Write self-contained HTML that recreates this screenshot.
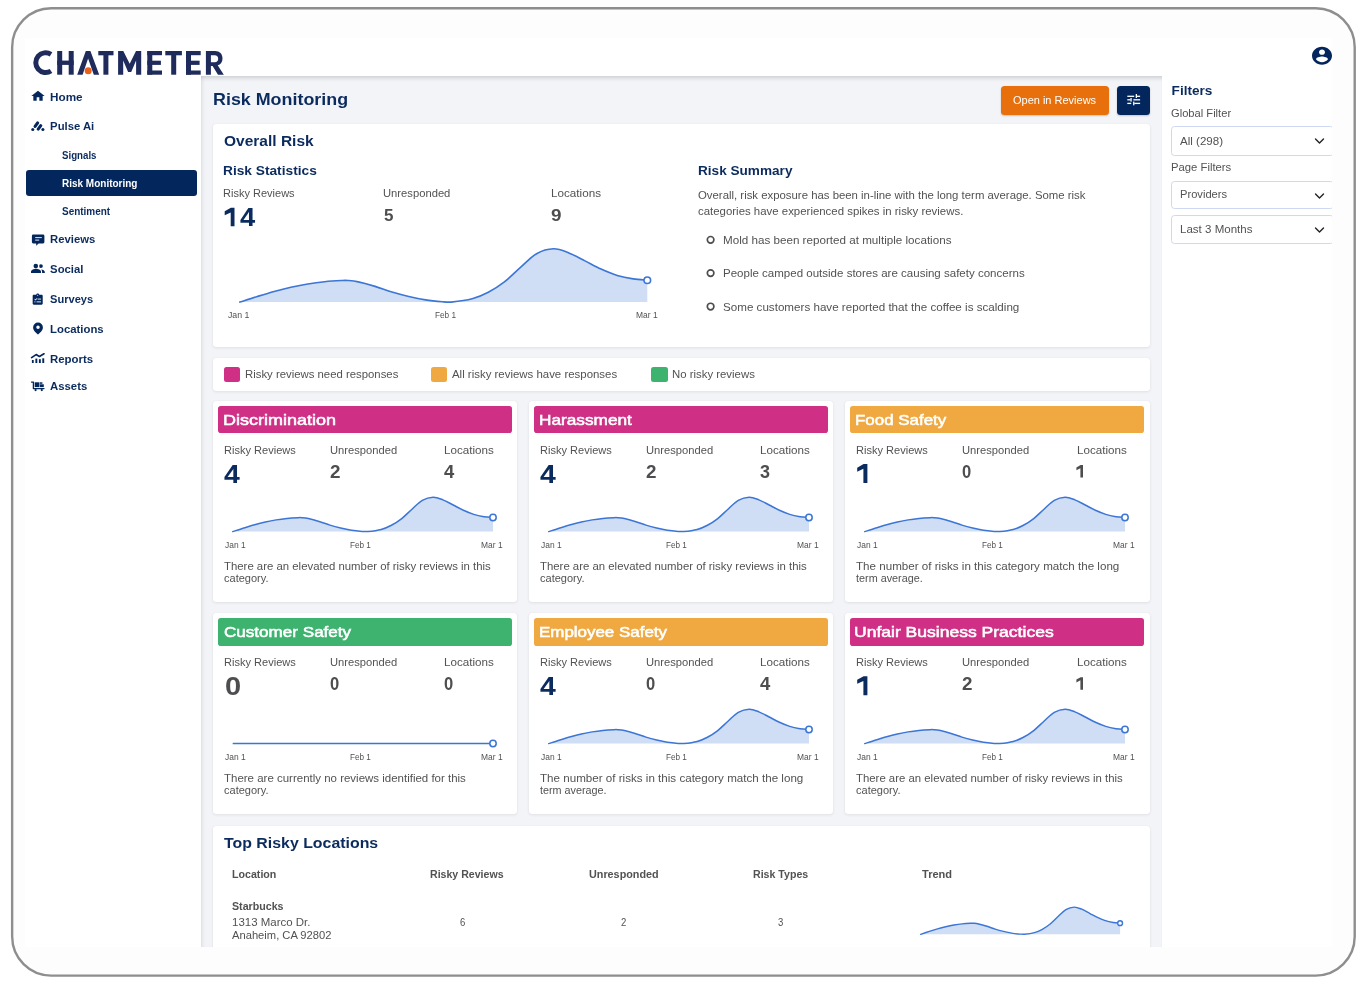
<!DOCTYPE html><html><head><meta charset="utf-8"><title>Risk Monitoring</title><style>
html,body{margin:0;padding:0;background:#fff}body{width:1366px;height:988px;position:relative;overflow:hidden;font-family:"Liberation Sans",sans-serif}#frame{position:absolute;left:0;top:0}#app{position:absolute;left:25px;top:38px;width:1307px;height:909px;background:#fff;overflow:hidden}#app>div,#app>svg,#app>span{position:absolute}#app>svg{overflow:visible}#in{position:absolute;left:-25px;top:-38px;width:1366px;height:988px;will-change:transform}#in>div,#in>svg,#in>span{position:absolute}#in>svg{overflow:visible}#in>span{white-space:nowrap;line-height:1;transform-origin:0 0;display:block}
</style></head><body><svg id="frame" width="1366" height="988"><rect x="12.15" y="8.2" width="1342.55" height="967.4" rx="39" ry="39" fill="#fdfdfd" stroke="#8e8e8e" stroke-width="2.4"/></svg><div id="app"><div id="in">
<svg style="left:25px;top:40px;" width="210" height="40" viewBox="25 40 210 40">
<g fill="none" stroke="#1f2b5b" stroke-width="5">
 <path d="M51.0 54.3A9.9 9.9 0 1 0 51.0 71.0"/>
</g>
<g fill="#1f2b5b">
 <rect x="57.2" y="51" width="5" height="23.7"/><rect x="68.7" y="51" width="5" height="23.7"/><rect x="57.2" y="60.6" width="16.5" height="4.3"/>
 <path d="M77.2 74.7L85.8 51h4.6L99.2 74.7h-5.4L88.1 58.6 82.6 74.7z"/>
 <rect x="98.3" y="51" width="15.2" height="4.3"/><rect x="103.4" y="51" width="5" height="23.7"/>
 <path d="M118.1 74.7V51h5.2L129.7 63.7 136 51h5.2V74.7h-5.1V60.6L131.2 72.1h-3.1L123.2 60.6V74.7z"/>
 <rect x="147.3" y="51" width="5" height="23.7"/><rect x="147.3" y="51" width="14.7" height="4.2"/><rect x="147.3" y="60.7" width="13.6" height="4.2"/><rect x="147.3" y="70.5" width="14.7" height="4.2"/>
 <rect x="165.3" y="51" width="16.6" height="4.3"/><rect x="171.2" y="51" width="5" height="23.7"/>
 <rect x="186" y="51" width="5" height="23.7"/><rect x="186" y="51" width="14.7" height="4.2"/><rect x="186" y="60.7" width="13.6" height="4.2"/><rect x="186" y="70.5" width="14.7" height="4.2"/>
 <path d="M205.9 74.7V51h9.2c4.6 0 7.4 3 7.4 7.4 0 3.5-1.9 5.9-4.8 6.9l6.1 9.4h-5.8l-5.4-8.6h-1.7v8.6zM210.9 55.3v6.9h3.9c2.1 0 3.4-1.3 3.4-3.5 0-2.1-1.3-3.4-3.4-3.4z"/>
</g>
<circle cx="88.2" cy="70.7" r="3.5" fill="#ea601b"/>
</svg>
<svg style="left:1310px;top:45.1px" width="24" height="21.5" viewBox="0 0 24 24" preserveAspectRatio="none"><path fill="#03265c" d="M12 2C6.48 2 2 6.48 2 12s4.48 10 10 10 10-4.48 10-10S17.52 2 12 2zm0 3c1.66 0 3 1.34 3 3s-1.34 3-3 3-3-1.34-3-3 1.34-3 3-3zm0 14.2c-2.5 0-4.71-1.28-6-3.22.03-1.99 4-3.08 6-3.08 1.99 0 5.97 1.09 6 3.08-1.29 1.94-3.5 3.22-6 3.22z"/></svg>
<div style="left:26px;top:169.8px;width:170.80px;height:26.40px;background:#03265c;border-radius:3px;"></div>
<svg style="left:30px;top:89.2px" width="16" height="14.1" viewBox="0 0 24 24" preserveAspectRatio="none"><path fill="#03265c" d="M10 20v-6h4v6h5v-8h3L12 3 2 12h3v8z"/></svg>
<svg style="left:30px;top:119px;" width="16" height="14" viewBox="0 0 16 14"><g stroke="#03265c" stroke-width="3.1" stroke-linecap="round"><path d="M5.1 7.4L7.65 3.9"/><path d="M8.2 10.1L10.75 6.65"/></g><circle cx="2.8" cy="10.5" r="1.55" fill="#03265c"/><circle cx="12.9" cy="10.5" r="1.55" fill="#03265c"/></svg>
<svg style="left:30px;top:232px;" width="16" height="16" viewBox="0 0 16 16"><path fill="#03265c" d="M3.2 2.6h9.9a1.3 1.3 0 0 1 1.3 1.3v6.2a1.3 1.3 0 0 1-1.3 1.3H8.6L6.2 13.7V11.4H3.2a1.3 1.3 0 0 1-1.3-1.3V3.9a1.3 1.3 0 0 1 1.3-1.3z"/><rect x="5.2" y="5.1" width="6.6" height="1" fill="#dfe6f2"/><rect x="5.2" y="7.6" width="4" height="1" fill="#dfe6f2"/></svg>
<svg style="left:30px;top:262px;" width="16" height="12" viewBox="0 0 16 12"><g fill="#03265c"><circle cx="5.8" cy="4" r="2.3"/><circle cx="10.9" cy="4.1" r="1.95"/><path d="M1 11v-1.3c0-1.9 3-2.9 5-2.9s5 1 5 2.9V11z"/><path d="M11.2 7.5c1.7.3 3.6 1.1 3.6 2.4V11h-2.7V9.6c0-.8-.4-1.5-.9-2.1z"/></g><path d="M8.4 2.2a2.9 2.9 0 0 1 0 3.8" fill="none" stroke="#fff" stroke-width=".55"/></svg>
<svg style="left:31.3px;top:292.8px;" width="13.4" height="13.4" viewBox="0 0 24 24"><path fill="#03265c" d="M19 3h-4.18C14.4 1.84 13.3 1 12 1c-1.3 0-2.4.84-2.82 2H5c-1.1 0-2 .9-2 2v14c0 1.1.9 2 2 2h14c1.1 0 2-.9 2-2V5c0-1.1-.9-2-2-2zm-7 0c.55 0 1 .45 1 1s-.45 1-1 1-1-.45-1-1 .45-1 1-1z"/><g fill="#dfe6f2"><rect x="12" y="10" width="6" height="1.8"/><rect x="10" y="15" width="8" height="1.8"/><rect x="6" y="15" width="2" height="1.8"/><path d="M6 11.2l1-1 1.2 1.2 2.4-2.6 1 1-3.4 3.6z"/></g></svg>
<svg style="left:31px;top:321px;" width="14" height="15" viewBox="0 0 14 15"><path fill="#03265c" fill-rule="evenodd" d="M7 1.5a4.9 4.9 0 0 1 4.9 4.9c0 3.2-3.4 5.6-4.9 7-1.5-1.4-4.9-3.8-4.9-7A4.9 4.9 0 0 1 7 1.5zm0 3.1a1.75 1.75 0 1 0 0 3.5 1.75 1.75 0 0 0 0-3.5z"/></svg>
<svg style="left:30px;top:351px;" width="16" height="14" viewBox="0 0 16 14"><path d="M1.6 6.6L6.1 3.6 9.4 5.5 14 2.8" fill="none" stroke="#03265c" stroke-width="1.7" stroke-linecap="round" stroke-linejoin="round"/><g fill="#03265c"><rect x="1.9" y="9" width="1.8" height="3"/><rect x="5.4" y="7.6" width="1.9" height="4.4"/><rect x="8.9" y="8.2" width="1.9" height="3.8"/><rect x="12.3" y="7.3" width="1.9" height="4.7"/></g></svg>
<svg style="left:30px;top:380px;" width="16" height="13" viewBox="0 0 16 13"><path d="M1.5 2.1h1.9v6.5H14" fill="none" stroke="#03265c" stroke-width="1.3" stroke-linecap="round" stroke-linejoin="round"/><g fill="#03265c"><circle cx="5.6" cy="10.1" r="1.1"/><circle cx="11.8" cy="10.1" r="1.1"/><rect x="4.7" y="2.3" width="4.7" height="4.8"/><rect x="9.9" y="4.3" width="3.9" height="2.8"/><rect x="9.9" y="2.3" width="2.5" height="1.5"/></g></svg>
<div style="left:201px;top:76px;width:961.00px;height:871.00px;background:#f3f4f7;border-radius:0px;box-shadow:inset 0 5px 4px -3px rgba(0,0,0,.16),inset 4px 0 4px -3px rgba(0,0,0,.10);"></div>
<div style="left:1001px;top:85.6px;width:108.00px;height:29.20px;background:#e8700c;border-radius:3.5px;box-shadow:0 1px 2px rgba(0,0,0,.2);"></div>
<div style="left:1117.3px;top:85.6px;width:32.70px;height:29.20px;background:#03265c;border-radius:3.5px;box-shadow:0 1px 2px rgba(0,0,0,.2);"></div>
<svg style="left:0;top:0" width="1366" height="988"><g fill="#fff"><rect x="1127.3" y="95.65" width="6.9" height="1.3"/><rect x="1135.7" y="94" width="1.3" height="4"/><rect x="1136.9" y="95.65" width="3.2" height="1.3"/><rect x="1127.3" y="99.15" width="3.2" height="1.3"/><rect x="1130.4" y="98" width="1.3" height="3.6"/><rect x="1133.4" y="99.15" width="6.7" height="1.3"/><rect x="1127.3" y="102.75" width="3.9" height="1.3"/><rect x="1133.1" y="101.6" width="1.3" height="3.7"/><rect x="1134.3" y="102.75" width="5.8" height="1.3"/></g></svg>
<div style="left:212.5px;top:124px;width:937.50px;height:223.00px;background:#fff;border-radius:3px;box-shadow:0 1px 3px rgba(30,40,60,.09),0 0 1px rgba(30,40,60,.07);"></div>
<svg style="left:0;top:0" width="1366" height="988"><path d="M234.50 207.80L234.50 226.30L230.70 226.30L230.70 212.43L224.70 215.15L224.70 211.31L230.90 207.80Z" fill="#0b2b5e"/></svg>
<svg style="left:212px;top:236px;" width="460" height="80" viewBox="212 236 460 80"><path d="M239.80 302.10C242.71 301.17 251.56 298.27 257.28 296.50C263.00 294.74 268.51 293.03 274.11 291.49C279.71 289.96 285.28 288.54 290.90 287.28C296.52 286.02 302.20 284.86 307.81 283.92C313.43 282.99 319.00 282.25 324.60 281.69C330.20 281.12 337.46 280.71 341.39 280.51C345.32 280.32 345.38 280.28 348.19 280.51C351.01 280.74 353.82 280.92 358.30 281.90C362.78 282.88 369.47 284.69 375.09 286.38C380.71 288.06 386.38 290.34 392.00 292.03C397.62 293.71 403.19 295.19 408.79 296.50C414.39 297.82 420.00 299.04 425.62 299.91C431.24 300.79 438.21 301.42 442.49 301.78C446.77 302.10 446.34 302.10 451.29 302.10C456.24 301.60 466.03 300.43 472.20 298.80C478.36 297.16 482.93 295.11 488.29 292.29C493.66 289.48 499.02 286.05 504.39 281.90C509.76 277.75 515.12 272.10 520.49 267.40C525.85 262.70 531.08 256.80 536.58 253.70C542.08 250.60 548.12 248.93 553.49 248.80C558.87 248.67 563.57 250.89 568.82 252.90C574.07 254.92 579.63 258.22 584.99 260.90C590.36 263.58 595.64 266.58 601.01 269.00C606.37 271.42 611.81 273.74 617.19 275.40C622.56 277.05 628.26 278.11 633.28 278.91C638.30 279.72 644.96 280.02 647.30 280.25L647.30 302.1L239.80 302.1Z" fill="#cfddf5"/><path d="M239.80 302.10C242.71 301.17 251.56 298.27 257.28 296.50C263.00 294.74 268.51 293.03 274.11 291.49C279.71 289.96 285.28 288.54 290.90 287.28C296.52 286.02 302.20 284.86 307.81 283.92C313.43 282.99 319.00 282.25 324.60 281.69C330.20 281.12 337.46 280.71 341.39 280.51C345.32 280.32 345.38 280.28 348.19 280.51C351.01 280.74 353.82 280.92 358.30 281.90C362.78 282.88 369.47 284.69 375.09 286.38C380.71 288.06 386.38 290.34 392.00 292.03C397.62 293.71 403.19 295.19 408.79 296.50C414.39 297.82 420.00 299.04 425.62 299.91C431.24 300.79 438.21 301.42 442.49 301.78C446.77 302.10 446.34 302.10 451.29 302.10C456.24 301.60 466.03 300.43 472.20 298.80C478.36 297.16 482.93 295.11 488.29 292.29C493.66 289.48 499.02 286.05 504.39 281.90C509.76 277.75 515.12 272.10 520.49 267.40C525.85 262.70 531.08 256.80 536.58 253.70C542.08 250.60 548.12 248.93 553.49 248.80C558.87 248.67 563.57 250.89 568.82 252.90C574.07 254.92 579.63 258.22 584.99 260.90C590.36 263.58 595.64 266.58 601.01 269.00C606.37 271.42 611.81 273.74 617.19 275.40C622.56 277.05 628.26 278.11 633.28 278.91C638.30 279.72 644.96 280.02 647.30 280.25" fill="none" stroke="#3b75d5" stroke-width="1.6" stroke-linecap="round" stroke-linejoin="round"/><circle cx="647.30" cy="280.25" r="3.3" fill="#fff" stroke="#3b75d5" stroke-width="1.6"/></svg>
<svg style="left:0;top:0" width="1366" height="988"><circle cx="710.6" cy="239.8" r="3.3" fill="#fff" stroke="#4d4d4d" stroke-width="1.65"/></svg>
<svg style="left:0;top:0" width="1366" height="988"><circle cx="710.6" cy="273.1" r="3.3" fill="#fff" stroke="#4d4d4d" stroke-width="1.65"/></svg>
<svg style="left:0;top:0" width="1366" height="988"><circle cx="710.6" cy="306.5" r="3.3" fill="#fff" stroke="#4d4d4d" stroke-width="1.65"/></svg>
<div style="left:212.5px;top:358px;width:937.50px;height:33.00px;background:#fff;border-radius:3px;box-shadow:0 1px 3px rgba(30,40,60,.09),0 0 1px rgba(30,40,60,.07);"></div>
<div style="left:224.1px;top:367.3px;width:16.20px;height:14.30px;background:#cf2f84;border-radius:2.5px;"></div>
<div style="left:431.2px;top:367.3px;width:16.20px;height:14.30px;background:#f0a940;border-radius:2.5px;"></div>
<div style="left:651.4px;top:367.3px;width:16.20px;height:14.30px;background:#3eb26f;border-radius:2.5px;"></div>
<div style="left:212.7px;top:401px;width:304.60px;height:200.50px;background:#fff;border-radius:3px;box-shadow:0 1px 3px rgba(30,40,60,.09),0 0 1px rgba(30,40,60,.07);"></div>
<div style="left:217.89999999999998px;top:405.6px;width:294.10px;height:27.80px;background:#cf2f84;border-radius:2.8px;"></div>
<svg style="left:212.7px;top:486px;" width="304" height="55" viewBox="212.7 486 304 55"><path d="M232.40 531.60C234.26 531.00 239.91 529.13 243.57 527.99C247.22 526.85 250.74 525.75 254.32 524.75C257.90 523.76 261.45 522.85 265.04 522.04C268.63 521.22 272.26 520.47 275.84 519.87C279.43 519.27 282.99 518.79 286.57 518.42C290.14 518.06 294.78 517.79 297.29 517.67C299.80 517.54 299.84 517.52 301.64 517.67C303.44 517.82 305.23 517.93 308.10 518.56C310.96 519.19 315.23 520.36 318.82 521.45C322.41 522.54 326.03 524.01 329.62 525.10C333.21 526.19 336.77 527.14 340.35 527.99C343.93 528.84 347.51 529.62 351.10 530.19C354.68 530.76 359.14 531.16 361.87 531.39C364.61 531.60 364.33 531.60 367.50 531.60C370.66 531.28 376.91 530.52 380.85 529.47C384.79 528.41 387.70 527.09 391.13 525.27C394.56 523.45 397.99 521.24 401.41 518.56C404.84 515.88 408.27 512.24 411.69 509.21C415.12 506.17 418.46 502.37 421.98 500.36C425.49 498.36 429.35 497.29 432.78 497.20C436.21 497.11 439.21 498.55 442.57 499.85C445.92 501.15 449.47 503.28 452.90 505.01C456.33 506.74 459.70 508.68 463.13 510.24C466.56 511.80 470.03 513.30 473.46 514.37C476.90 515.43 480.54 516.11 483.75 516.64C486.95 517.16 491.21 517.35 492.70 517.50L492.70 531.6L232.40 531.6Z" fill="#cfddf5"/><path d="M232.40 531.60C234.26 531.00 239.91 529.13 243.57 527.99C247.22 526.85 250.74 525.75 254.32 524.75C257.90 523.76 261.45 522.85 265.04 522.04C268.63 521.22 272.26 520.47 275.84 519.87C279.43 519.27 282.99 518.79 286.57 518.42C290.14 518.06 294.78 517.79 297.29 517.67C299.80 517.54 299.84 517.52 301.64 517.67C303.44 517.82 305.23 517.93 308.10 518.56C310.96 519.19 315.23 520.36 318.82 521.45C322.41 522.54 326.03 524.01 329.62 525.10C333.21 526.19 336.77 527.14 340.35 527.99C343.93 528.84 347.51 529.62 351.10 530.19C354.68 530.76 359.14 531.16 361.87 531.39C364.61 531.60 364.33 531.60 367.50 531.60C370.66 531.28 376.91 530.52 380.85 529.47C384.79 528.41 387.70 527.09 391.13 525.27C394.56 523.45 397.99 521.24 401.41 518.56C404.84 515.88 408.27 512.24 411.69 509.21C415.12 506.17 418.46 502.37 421.98 500.36C425.49 498.36 429.35 497.29 432.78 497.20C436.21 497.11 439.21 498.55 442.57 499.85C445.92 501.15 449.47 503.28 452.90 505.01C456.33 506.74 459.70 508.68 463.13 510.24C466.56 511.80 470.03 513.30 473.46 514.37C476.90 515.43 480.54 516.11 483.75 516.64C486.95 517.16 491.21 517.35 492.70 517.50" fill="none" stroke="#3b75d5" stroke-width="1.5" stroke-linecap="round" stroke-linejoin="round"/><circle cx="492.70" cy="517.50" r="3.2" fill="#fff" stroke="#3b75d5" stroke-width="1.5"/></svg>
<div style="left:528.85px;top:401px;width:304.60px;height:200.50px;background:#fff;border-radius:3px;box-shadow:0 1px 3px rgba(30,40,60,.09),0 0 1px rgba(30,40,60,.07);"></div>
<div style="left:534.0500000000001px;top:405.6px;width:294.10px;height:27.80px;background:#cf2f84;border-radius:2.8px;"></div>
<svg style="left:528.85px;top:486px;" width="304" height="55" viewBox="528.85 486 304 55"><path d="M548.55 531.60C550.41 531.00 556.06 529.13 559.72 527.99C563.37 526.85 566.89 525.75 570.47 524.75C574.05 523.76 577.60 522.85 581.19 522.04C584.78 521.22 588.41 520.47 591.99 519.87C595.58 519.27 599.14 518.79 602.72 518.42C606.29 518.06 610.93 517.79 613.44 517.67C615.95 517.54 615.99 517.52 617.79 517.67C619.59 517.82 621.38 517.93 624.25 518.56C627.11 519.19 631.38 520.36 634.97 521.45C638.56 522.54 642.18 524.01 645.77 525.10C649.36 526.19 652.92 527.14 656.50 527.99C660.08 528.84 663.66 529.62 667.25 530.19C670.83 530.76 675.29 531.16 678.02 531.39C680.76 531.60 680.48 531.60 683.65 531.60C686.81 531.28 693.06 530.52 697.00 529.47C700.94 528.41 703.85 527.09 707.28 525.27C710.71 523.45 714.14 521.24 717.56 518.56C720.99 515.88 724.42 512.24 727.84 509.21C731.27 506.17 734.61 502.37 738.13 500.36C741.64 498.36 745.50 497.29 748.93 497.20C752.36 497.11 755.36 498.55 758.72 499.85C762.07 501.15 765.62 503.28 769.05 505.01C772.48 506.74 775.85 508.68 779.28 510.24C782.71 511.80 786.18 513.30 789.61 514.37C793.05 515.43 796.69 516.11 799.90 516.64C803.10 517.16 807.36 517.35 808.85 517.50L808.85 531.6L548.55 531.6Z" fill="#cfddf5"/><path d="M548.55 531.60C550.41 531.00 556.06 529.13 559.72 527.99C563.37 526.85 566.89 525.75 570.47 524.75C574.05 523.76 577.60 522.85 581.19 522.04C584.78 521.22 588.41 520.47 591.99 519.87C595.58 519.27 599.14 518.79 602.72 518.42C606.29 518.06 610.93 517.79 613.44 517.67C615.95 517.54 615.99 517.52 617.79 517.67C619.59 517.82 621.38 517.93 624.25 518.56C627.11 519.19 631.38 520.36 634.97 521.45C638.56 522.54 642.18 524.01 645.77 525.10C649.36 526.19 652.92 527.14 656.50 527.99C660.08 528.84 663.66 529.62 667.25 530.19C670.83 530.76 675.29 531.16 678.02 531.39C680.76 531.60 680.48 531.60 683.65 531.60C686.81 531.28 693.06 530.52 697.00 529.47C700.94 528.41 703.85 527.09 707.28 525.27C710.71 523.45 714.14 521.24 717.56 518.56C720.99 515.88 724.42 512.24 727.84 509.21C731.27 506.17 734.61 502.37 738.13 500.36C741.64 498.36 745.50 497.29 748.93 497.20C752.36 497.11 755.36 498.55 758.72 499.85C762.07 501.15 765.62 503.28 769.05 505.01C772.48 506.74 775.85 508.68 779.28 510.24C782.71 511.80 786.18 513.30 789.61 514.37C793.05 515.43 796.69 516.11 799.90 516.64C803.10 517.16 807.36 517.35 808.85 517.50" fill="none" stroke="#3b75d5" stroke-width="1.5" stroke-linecap="round" stroke-linejoin="round"/><circle cx="808.85" cy="517.50" r="3.2" fill="#fff" stroke="#3b75d5" stroke-width="1.5"/></svg>
<div style="left:845.0px;top:401px;width:304.60px;height:200.50px;background:#fff;border-radius:3px;box-shadow:0 1px 3px rgba(30,40,60,.09),0 0 1px rgba(30,40,60,.07);"></div>
<div style="left:850.2px;top:405.6px;width:294.10px;height:27.80px;background:#f0a940;border-radius:2.8px;"></div>
<svg style="left:0;top:0" width="1366" height="988"><path d="M867.40 464.00L867.40 483.10L863.40 483.10L863.40 468.86L857.20 471.63L857.20 467.63L863.60 464.00Z" fill="#0b2b5e"/></svg>
<svg style="left:0;top:0" width="1366" height="988"><path d="M1083.00 465.00L1083.00 477.50L1080.40 477.50L1080.40 468.16L1076.40 470.19L1076.40 467.38L1080.60 465.00Z" fill="#4e4e50"/></svg>
<svg style="left:845.0px;top:486px;" width="304" height="55" viewBox="845.0 486 304 55"><path d="M864.70 531.60C866.56 531.00 872.21 529.13 875.87 527.99C879.52 526.85 883.04 525.75 886.62 524.75C890.20 523.76 893.75 522.85 897.34 522.04C900.93 521.22 904.56 520.47 908.14 519.87C911.73 519.27 915.29 518.79 918.87 518.42C922.44 518.06 927.08 517.79 929.59 517.67C932.10 517.54 932.14 517.52 933.94 517.67C935.74 517.82 937.53 517.93 940.40 518.56C943.26 519.19 947.53 520.36 951.12 521.45C954.71 522.54 958.33 524.01 961.92 525.10C965.51 526.19 969.07 527.14 972.65 527.99C976.23 528.84 979.81 529.62 983.40 530.19C986.98 530.76 991.44 531.16 994.17 531.39C996.91 531.60 996.63 531.60 999.80 531.60C1002.96 531.28 1009.21 530.52 1013.15 529.47C1017.09 528.41 1020.00 527.09 1023.43 525.27C1026.86 523.45 1030.29 521.24 1033.71 518.56C1037.14 515.88 1040.57 512.24 1043.99 509.21C1047.42 506.17 1050.76 502.37 1054.28 500.36C1057.79 498.36 1061.65 497.29 1065.08 497.20C1068.51 497.11 1071.51 498.55 1074.87 499.85C1078.22 501.15 1081.77 503.28 1085.20 505.01C1088.63 506.74 1092.00 508.68 1095.43 510.24C1098.86 511.80 1102.33 513.30 1105.76 514.37C1109.20 515.43 1112.84 516.11 1116.05 516.64C1119.25 517.16 1123.51 517.35 1125.00 517.50L1125.00 531.6L864.70 531.6Z" fill="#cfddf5"/><path d="M864.70 531.60C866.56 531.00 872.21 529.13 875.87 527.99C879.52 526.85 883.04 525.75 886.62 524.75C890.20 523.76 893.75 522.85 897.34 522.04C900.93 521.22 904.56 520.47 908.14 519.87C911.73 519.27 915.29 518.79 918.87 518.42C922.44 518.06 927.08 517.79 929.59 517.67C932.10 517.54 932.14 517.52 933.94 517.67C935.74 517.82 937.53 517.93 940.40 518.56C943.26 519.19 947.53 520.36 951.12 521.45C954.71 522.54 958.33 524.01 961.92 525.10C965.51 526.19 969.07 527.14 972.65 527.99C976.23 528.84 979.81 529.62 983.40 530.19C986.98 530.76 991.44 531.16 994.17 531.39C996.91 531.60 996.63 531.60 999.80 531.60C1002.96 531.28 1009.21 530.52 1013.15 529.47C1017.09 528.41 1020.00 527.09 1023.43 525.27C1026.86 523.45 1030.29 521.24 1033.71 518.56C1037.14 515.88 1040.57 512.24 1043.99 509.21C1047.42 506.17 1050.76 502.37 1054.28 500.36C1057.79 498.36 1061.65 497.29 1065.08 497.20C1068.51 497.11 1071.51 498.55 1074.87 499.85C1078.22 501.15 1081.77 503.28 1085.20 505.01C1088.63 506.74 1092.00 508.68 1095.43 510.24C1098.86 511.80 1102.33 513.30 1105.76 514.37C1109.20 515.43 1112.84 516.11 1116.05 516.64C1119.25 517.16 1123.51 517.35 1125.00 517.50" fill="none" stroke="#3b75d5" stroke-width="1.5" stroke-linecap="round" stroke-linejoin="round"/><circle cx="1125.00" cy="517.50" r="3.2" fill="#fff" stroke="#3b75d5" stroke-width="1.5"/></svg>
<div style="left:212.7px;top:613.2px;width:304.60px;height:200.50px;background:#fff;border-radius:3px;box-shadow:0 1px 3px rgba(30,40,60,.09),0 0 1px rgba(30,40,60,.07);"></div>
<div style="left:217.89999999999998px;top:617.8000000000001px;width:294.10px;height:27.80px;background:#3eb26f;border-radius:2.8px;"></div>
<svg style="left:212.7px;top:698.2px;" width="304" height="55" viewBox="212.7 698.2 304 55"><path d="M232.39999999999998 743.7L492.7 743.7" fill="none" stroke="#3b75d5" stroke-width="1.5"/><circle cx="492.7" cy="743.7" r="3.2" fill="#fff" stroke="#3b75d5" stroke-width="1.5"/></svg>
<div style="left:528.85px;top:613.2px;width:304.60px;height:200.50px;background:#fff;border-radius:3px;box-shadow:0 1px 3px rgba(30,40,60,.09),0 0 1px rgba(30,40,60,.07);"></div>
<div style="left:534.0500000000001px;top:617.8000000000001px;width:294.10px;height:27.80px;background:#f0a940;border-radius:2.8px;"></div>
<svg style="left:528.85px;top:698.2px;" width="304" height="55" viewBox="528.85 698.2 304 55"><path d="M548.55 743.80C550.41 743.20 556.06 741.33 559.72 740.19C563.37 739.05 566.89 737.95 570.47 736.95C574.05 735.96 577.60 735.05 581.19 734.24C584.78 733.42 588.41 732.67 591.99 732.07C595.58 731.47 599.14 730.99 602.72 730.62C606.29 730.26 610.93 729.99 613.44 729.87C615.95 729.74 615.99 729.72 617.79 729.87C619.59 730.02 621.38 730.13 624.25 730.76C627.11 731.39 631.38 732.56 634.97 733.65C638.56 734.74 642.18 736.21 645.77 737.30C649.36 738.39 652.92 739.34 656.50 740.19C660.08 741.04 663.66 741.82 667.25 742.39C670.83 742.96 675.29 743.36 678.02 743.59C680.76 743.80 680.48 743.80 683.65 743.80C686.81 743.48 693.06 742.72 697.00 741.67C700.94 740.61 703.85 739.29 707.28 737.47C710.71 735.65 714.14 733.44 717.56 730.76C720.99 728.08 724.42 724.44 727.84 721.41C731.27 718.37 734.61 714.57 738.13 712.56C741.64 710.56 745.50 709.49 748.93 709.40C752.36 709.31 755.36 710.75 758.72 712.05C762.07 713.35 765.62 715.48 769.05 717.21C772.48 718.94 775.85 720.88 779.28 722.44C782.71 724.00 786.18 725.50 789.61 726.57C793.05 727.63 796.69 728.31 799.90 728.84C803.10 729.36 807.36 729.55 808.85 729.70L808.85 743.8000000000001L548.55 743.8000000000001Z" fill="#cfddf5"/><path d="M548.55 743.80C550.41 743.20 556.06 741.33 559.72 740.19C563.37 739.05 566.89 737.95 570.47 736.95C574.05 735.96 577.60 735.05 581.19 734.24C584.78 733.42 588.41 732.67 591.99 732.07C595.58 731.47 599.14 730.99 602.72 730.62C606.29 730.26 610.93 729.99 613.44 729.87C615.95 729.74 615.99 729.72 617.79 729.87C619.59 730.02 621.38 730.13 624.25 730.76C627.11 731.39 631.38 732.56 634.97 733.65C638.56 734.74 642.18 736.21 645.77 737.30C649.36 738.39 652.92 739.34 656.50 740.19C660.08 741.04 663.66 741.82 667.25 742.39C670.83 742.96 675.29 743.36 678.02 743.59C680.76 743.80 680.48 743.80 683.65 743.80C686.81 743.48 693.06 742.72 697.00 741.67C700.94 740.61 703.85 739.29 707.28 737.47C710.71 735.65 714.14 733.44 717.56 730.76C720.99 728.08 724.42 724.44 727.84 721.41C731.27 718.37 734.61 714.57 738.13 712.56C741.64 710.56 745.50 709.49 748.93 709.40C752.36 709.31 755.36 710.75 758.72 712.05C762.07 713.35 765.62 715.48 769.05 717.21C772.48 718.94 775.85 720.88 779.28 722.44C782.71 724.00 786.18 725.50 789.61 726.57C793.05 727.63 796.69 728.31 799.90 728.84C803.10 729.36 807.36 729.55 808.85 729.70" fill="none" stroke="#3b75d5" stroke-width="1.5" stroke-linecap="round" stroke-linejoin="round"/><circle cx="808.85" cy="729.70" r="3.2" fill="#fff" stroke="#3b75d5" stroke-width="1.5"/></svg>
<div style="left:845.0px;top:613.2px;width:304.60px;height:200.50px;background:#fff;border-radius:3px;box-shadow:0 1px 3px rgba(30,40,60,.09),0 0 1px rgba(30,40,60,.07);"></div>
<div style="left:850.2px;top:617.8000000000001px;width:294.10px;height:27.80px;background:#cf2f84;border-radius:2.8px;"></div>
<svg style="left:0;top:0" width="1366" height="988"><path d="M867.40 676.20L867.40 695.30L863.40 695.30L863.40 681.06L857.20 683.83L857.20 679.83L863.60 676.20Z" fill="#0b2b5e"/></svg>
<svg style="left:0;top:0" width="1366" height="988"><path d="M1083.00 677.20L1083.00 689.70L1080.40 689.70L1080.40 680.36L1076.40 682.39L1076.40 679.58L1080.60 677.20Z" fill="#4e4e50"/></svg>
<svg style="left:845.0px;top:698.2px;" width="304" height="55" viewBox="845.0 698.2 304 55"><path d="M864.70 743.80C866.56 743.20 872.21 741.33 875.87 740.19C879.52 739.05 883.04 737.95 886.62 736.95C890.20 735.96 893.75 735.05 897.34 734.24C900.93 733.42 904.56 732.67 908.14 732.07C911.73 731.47 915.29 730.99 918.87 730.62C922.44 730.26 927.08 729.99 929.59 729.87C932.10 729.74 932.14 729.72 933.94 729.87C935.74 730.02 937.53 730.13 940.40 730.76C943.26 731.39 947.53 732.56 951.12 733.65C954.71 734.74 958.33 736.21 961.92 737.30C965.51 738.39 969.07 739.34 972.65 740.19C976.23 741.04 979.81 741.82 983.40 742.39C986.98 742.96 991.44 743.36 994.17 743.59C996.91 743.80 996.63 743.80 999.80 743.80C1002.96 743.48 1009.21 742.72 1013.15 741.67C1017.09 740.61 1020.00 739.29 1023.43 737.47C1026.86 735.65 1030.29 733.44 1033.71 730.76C1037.14 728.08 1040.57 724.44 1043.99 721.41C1047.42 718.37 1050.76 714.57 1054.28 712.56C1057.79 710.56 1061.65 709.49 1065.08 709.40C1068.51 709.31 1071.51 710.75 1074.87 712.05C1078.22 713.35 1081.77 715.48 1085.20 717.21C1088.63 718.94 1092.00 720.88 1095.43 722.44C1098.86 724.00 1102.33 725.50 1105.76 726.57C1109.20 727.63 1112.84 728.31 1116.05 728.84C1119.25 729.36 1123.51 729.55 1125.00 729.70L1125.00 743.8000000000001L864.70 743.8000000000001Z" fill="#cfddf5"/><path d="M864.70 743.80C866.56 743.20 872.21 741.33 875.87 740.19C879.52 739.05 883.04 737.95 886.62 736.95C890.20 735.96 893.75 735.05 897.34 734.24C900.93 733.42 904.56 732.67 908.14 732.07C911.73 731.47 915.29 730.99 918.87 730.62C922.44 730.26 927.08 729.99 929.59 729.87C932.10 729.74 932.14 729.72 933.94 729.87C935.74 730.02 937.53 730.13 940.40 730.76C943.26 731.39 947.53 732.56 951.12 733.65C954.71 734.74 958.33 736.21 961.92 737.30C965.51 738.39 969.07 739.34 972.65 740.19C976.23 741.04 979.81 741.82 983.40 742.39C986.98 742.96 991.44 743.36 994.17 743.59C996.91 743.80 996.63 743.80 999.80 743.80C1002.96 743.48 1009.21 742.72 1013.15 741.67C1017.09 740.61 1020.00 739.29 1023.43 737.47C1026.86 735.65 1030.29 733.44 1033.71 730.76C1037.14 728.08 1040.57 724.44 1043.99 721.41C1047.42 718.37 1050.76 714.57 1054.28 712.56C1057.79 710.56 1061.65 709.49 1065.08 709.40C1068.51 709.31 1071.51 710.75 1074.87 712.05C1078.22 713.35 1081.77 715.48 1085.20 717.21C1088.63 718.94 1092.00 720.88 1095.43 722.44C1098.86 724.00 1102.33 725.50 1105.76 726.57C1109.20 727.63 1112.84 728.31 1116.05 728.84C1119.25 729.36 1123.51 729.55 1125.00 729.70" fill="none" stroke="#3b75d5" stroke-width="1.5" stroke-linecap="round" stroke-linejoin="round"/><circle cx="1125.00" cy="729.70" r="3.2" fill="#fff" stroke="#3b75d5" stroke-width="1.5"/></svg>
<div style="left:212.5px;top:826px;width:937.50px;height:134.00px;background:#fff;border-radius:3px;box-shadow:0 1px 3px rgba(30,40,60,.09),0 0 1px rgba(30,40,60,.07);"></div>
<svg style="left:915px;top:900px;" width="215" height="40" viewBox="915 900 215 40"><path d="M920.70 934.30C922.13 933.82 926.46 932.35 929.25 931.44C932.05 930.54 934.75 929.67 937.49 928.89C940.23 928.10 942.96 927.38 945.70 926.74C948.45 926.09 951.23 925.50 953.98 925.02C956.73 924.55 959.46 924.17 962.20 923.88C964.93 923.59 968.49 923.38 970.41 923.28C972.33 923.18 972.36 923.17 973.74 923.28C975.12 923.40 976.49 923.49 978.69 923.99C980.88 924.49 984.15 925.41 986.90 926.28C989.65 927.14 992.43 928.30 995.18 929.16C997.92 930.02 1000.65 930.77 1003.39 931.44C1006.13 932.11 1008.88 932.74 1011.63 933.18C1014.37 933.63 1017.79 933.95 1019.88 934.14C1021.98 934.30 1021.77 934.30 1024.19 934.30C1026.61 934.05 1031.40 933.45 1034.42 932.61C1037.44 931.78 1039.67 930.73 1042.29 929.30C1044.92 927.86 1047.54 926.11 1050.17 923.99C1052.80 921.87 1055.42 918.99 1058.05 916.59C1060.67 914.19 1063.23 911.18 1065.92 909.60C1068.61 908.02 1071.57 907.17 1074.20 907.10C1076.83 907.03 1079.13 908.17 1081.70 909.19C1084.26 910.22 1086.99 911.91 1089.61 913.27C1092.24 914.64 1094.82 916.18 1097.45 917.41C1100.07 918.64 1102.73 919.83 1105.36 920.67C1108.00 921.52 1110.78 922.06 1113.24 922.47C1115.70 922.88 1118.96 923.03 1120.10 923.15L1120.10 934.3L920.70 934.3Z" fill="#cfddf5"/><path d="M920.70 934.30C922.13 933.82 926.46 932.35 929.25 931.44C932.05 930.54 934.75 929.67 937.49 928.89C940.23 928.10 942.96 927.38 945.70 926.74C948.45 926.09 951.23 925.50 953.98 925.02C956.73 924.55 959.46 924.17 962.20 923.88C964.93 923.59 968.49 923.38 970.41 923.28C972.33 923.18 972.36 923.17 973.74 923.28C975.12 923.40 976.49 923.49 978.69 923.99C980.88 924.49 984.15 925.41 986.90 926.28C989.65 927.14 992.43 928.30 995.18 929.16C997.92 930.02 1000.65 930.77 1003.39 931.44C1006.13 932.11 1008.88 932.74 1011.63 933.18C1014.37 933.63 1017.79 933.95 1019.88 934.14C1021.98 934.30 1021.77 934.30 1024.19 934.30C1026.61 934.05 1031.40 933.45 1034.42 932.61C1037.44 931.78 1039.67 930.73 1042.29 929.30C1044.92 927.86 1047.54 926.11 1050.17 923.99C1052.80 921.87 1055.42 918.99 1058.05 916.59C1060.67 914.19 1063.23 911.18 1065.92 909.60C1068.61 908.02 1071.57 907.17 1074.20 907.10C1076.83 907.03 1079.13 908.17 1081.70 909.19C1084.26 910.22 1086.99 911.91 1089.61 913.27C1092.24 914.64 1094.82 916.18 1097.45 917.41C1100.07 918.64 1102.73 919.83 1105.36 920.67C1108.00 921.52 1110.78 922.06 1113.24 922.47C1115.70 922.88 1118.96 923.03 1120.10 923.15" fill="none" stroke="#3b75d5" stroke-width="1.4" stroke-linecap="round" stroke-linejoin="round"/><circle cx="1120.10" cy="923.15" r="2.4" fill="#fff" stroke="#3b75d5" stroke-width="1.4"/></svg>
<div style="left:1162px;top:76px;width:170.00px;height:871.00px;background:#fff;border-radius:0px;"></div>
<div style="left:1171.2px;top:126.3px;width:163px;height:29.3px;box-sizing:border-box;border:1.2px solid #cfd8f3;border-radius:3.5px;background:#fff"></div>
<svg style="left:1314.4px;top:138.35px;" width="11" height="6.2" viewBox="0 0 11 6.2"><path d="M1.5 1L5.5 4.9 9.5 1" fill="none" stroke="#222" stroke-width="1.4" stroke-linecap="round" stroke-linejoin="round"/></svg>
<div style="left:1171.2px;top:181.2px;width:163px;height:28.2px;box-sizing:border-box;border:1.2px solid #cfd8f3;border-radius:3.5px;background:#fff"></div>
<svg style="left:1314.4px;top:192.70000000000002px;" width="11" height="6.2" viewBox="0 0 11 6.2"><path d="M1.5 1L5.5 4.9 9.5 1" fill="none" stroke="#222" stroke-width="1.4" stroke-linecap="round" stroke-linejoin="round"/></svg>
<div style="left:1171.2px;top:215.3px;width:163px;height:28.5px;box-sizing:border-box;border:1.2px solid #cfd8f3;border-radius:3.5px;background:#fff"></div>
<svg style="left:1314.4px;top:226.95000000000002px;" width="11" height="6.2" viewBox="0 0 11 6.2"><path d="M1.5 1L5.5 4.9 9.5 1" fill="none" stroke="#222" stroke-width="1.4" stroke-linecap="round" stroke-linejoin="round"/></svg>
<span style="left:50.10px;top:92.00px;font-size:11.3px;color:#0b2b5e;font-weight:bold;transform:scaleX(1.0385);">Home</span>
<span style="left:50.10px;top:121.00px;font-size:11.3px;color:#0b2b5e;font-weight:bold;">Pulse Ai</span>
<span style="left:50.10px;top:234.00px;font-size:11.3px;color:#0b2b5e;font-weight:bold;">Reviews</span>
<span style="left:50.10px;top:264.00px;font-size:11.3px;color:#0b2b5e;font-weight:bold;">Social</span>
<span style="left:50.10px;top:294.00px;font-size:11.3px;color:#0b2b5e;font-weight:bold;transform:scaleX(0.9821);">Surveys</span>
<span style="left:50.10px;top:324.00px;font-size:11.3px;color:#0b2b5e;font-weight:bold;transform:scaleX(1.0062);">Locations</span>
<span style="left:50.10px;top:354.00px;font-size:11.3px;color:#0b2b5e;font-weight:bold;transform:scaleX(1.0118);">Reports</span>
<span style="left:50.10px;top:381.00px;font-size:11.3px;color:#0b2b5e;font-weight:bold;transform:scaleX(1.0063);">Assets</span>
<span style="left:62.30px;top:151.00px;font-size:10.4px;color:#0b2b5e;font-weight:bold;transform:scaleX(0.9334);">Signals</span>
<span style="left:62.30px;top:179.00px;font-size:10.4px;color:#fff;font-weight:bold;transform:scaleX(0.9609);">Risk Monitoring</span>
<span style="left:62.30px;top:207.00px;font-size:10.4px;color:#0b2b5e;font-weight:bold;transform:scaleX(0.9593);">Sentiment</span>
<span style="left:213.22px;top:91.00px;font-size:16.5px;color:#0b2b5e;font-weight:bold;transform:scaleX(1.0834);">Risk Monitoring</span>
<span style="left:1013.40px;top:95.00px;font-size:11.3px;color:#fff;transform:scaleX(0.9726);">Open in Reviews</span>
<span style="left:223.50px;top:133.00px;font-size:15.2px;color:#0b2b5e;font-weight:bold;transform:scaleX(1.0209);">Overall Risk</span>
<span style="left:223.30px;top:164.00px;font-size:13.4px;color:#0b2b5e;font-weight:bold;transform:scaleX(1.0242);">Risk Statistics</span>
<span style="left:223.40px;top:189.00px;font-size:10.4px;color:#525252;transform:scaleX(1.0601);">Risky Reviews</span>
<span style="left:383.00px;top:189.00px;font-size:10.4px;color:#525252;transform:scaleX(1.0797);">Unresponded</span>
<span style="left:550.80px;top:189.00px;font-size:10.4px;color:#525252;transform:scaleX(1.1245);">Locations</span>
<span style="left:240.00px;top:205.00px;font-size:25.8px;color:#0b2b5e;font-weight:bold;transform:scaleX(1.0600);">4</span>
<span style="left:384.00px;top:207.00px;font-size:17.2px;color:#4e4e50;font-weight:bold;transform:scaleX(0.9900);">5</span>
<span style="left:551.20px;top:207.00px;font-size:17.2px;color:#4e4e50;font-weight:bold;transform:scaleX(1.1000);">9</span>
<span style="left:228.10px;top:311.00px;font-size:9px;color:#525252;transform:scaleX(0.9722);">Jan 1</span>
<span style="left:434.90px;top:311.00px;font-size:9px;color:#525252;transform:scaleX(0.9127);">Feb 1</span>
<span style="left:635.90px;top:311.00px;font-size:9px;color:#525252;transform:scaleX(0.9391);">Mar 1</span>
<span style="left:698.40px;top:164.00px;font-size:13.4px;color:#0b2b5e;font-weight:bold;transform:scaleX(1.0151);">Risk Summary</span>
<span style="left:698.40px;top:190.00px;font-size:11px;color:#525252;transform:scaleX(1.0339);">Overall, risk exposure has been in-line with the long term average. Some risk</span>
<span style="left:698.40px;top:206.00px;font-size:11px;color:#525252;transform:scaleX(1.0383);">categories have experienced spikes in risky reviews.</span>
<span style="left:723.00px;top:235.00px;font-size:11px;color:#525252;transform:scaleX(1.0585);">Mold has been reported at multiple locations</span>
<span style="left:723.00px;top:268.00px;font-size:11px;color:#525252;transform:scaleX(1.0475);">People camped outside stores are causing safety concerns</span>
<span style="left:723.00px;top:302.00px;font-size:11px;color:#525252;transform:scaleX(1.0566);">Some customers have reported that the coffee is scalding</span>
<span style="left:244.50px;top:369.00px;font-size:10.6px;color:#525252;transform:scaleX(1.0716);">Risky reviews need responses</span>
<span style="left:452.40px;top:369.00px;font-size:10.6px;color:#525252;transform:scaleX(1.0787);">All risky reviews have responses</span>
<span style="left:672.20px;top:369.00px;font-size:10.6px;color:#525252;transform:scaleX(1.0740);">No risky reviews</span>
<span style="left:223.00px;top:412.00px;font-size:15.0px;color:#fff;-webkit-text-stroke:0.55px #fff;transform:scaleX(1.1987);">Discrimination</span>
<span style="left:224.10px;top:446.00px;font-size:10.4px;color:#525252;transform:scaleX(1.0630);">Risky Reviews</span>
<span style="left:329.80px;top:446.00px;font-size:10.4px;color:#525252;transform:scaleX(1.0765);">Unresponded</span>
<span style="left:444.20px;top:446.00px;font-size:10.4px;color:#525252;transform:scaleX(1.1200);">Locations</span>
<span style="left:224.10px;top:462.00px;font-size:25px;color:#0b2b5e;font-weight:bold;transform:scaleX(1.1357);">4</span>
<span style="left:329.80px;top:464.00px;font-size:17.6px;color:#4e4e50;font-weight:bold;transform:scaleX(1.0700);">2</span>
<span style="left:444.20px;top:464.00px;font-size:17.6px;color:#4e4e50;font-weight:bold;transform:scaleX(1.0500);">4</span>
<span style="left:225.00px;top:541.00px;font-size:8.6px;color:#525252;transform:scaleX(0.9791);">Jan 1</span>
<span style="left:349.80px;top:541.00px;font-size:8.6px;color:#525252;transform:scaleX(0.9506);">Feb 1</span>
<span style="left:480.70px;top:541.00px;font-size:8.6px;color:#525252;transform:scaleX(0.9825);">Mar 1</span>
<span style="left:223.80px;top:561.00px;font-size:10.8px;color:#525252;transform:scaleX(1.0534);">There are an elevated number of risky reviews in this</span>
<span style="left:223.80px;top:573.00px;font-size:10.8px;color:#525252;transform:scaleX(1.0204);">category.</span>
<span style="left:539.40px;top:412.00px;font-size:15.0px;color:#fff;-webkit-text-stroke:0.55px #fff;transform:scaleX(1.1488);">Harassment</span>
<span style="left:540.25px;top:446.00px;font-size:10.4px;color:#525252;transform:scaleX(1.0630);">Risky Reviews</span>
<span style="left:645.95px;top:446.00px;font-size:10.4px;color:#525252;transform:scaleX(1.0765);">Unresponded</span>
<span style="left:760.35px;top:446.00px;font-size:10.4px;color:#525252;transform:scaleX(1.1200);">Locations</span>
<span style="left:540.25px;top:462.00px;font-size:25px;color:#0b2b5e;font-weight:bold;transform:scaleX(1.1357);">4</span>
<span style="left:645.95px;top:464.00px;font-size:17.6px;color:#4e4e50;font-weight:bold;transform:scaleX(1.0700);">2</span>
<span style="left:760.35px;top:464.00px;font-size:17.6px;color:#4e4e50;font-weight:bold;transform:scaleX(1.0200);">3</span>
<span style="left:541.15px;top:541.00px;font-size:8.6px;color:#525252;transform:scaleX(0.9791);">Jan 1</span>
<span style="left:665.95px;top:541.00px;font-size:8.6px;color:#525252;transform:scaleX(0.9506);">Feb 1</span>
<span style="left:796.85px;top:541.00px;font-size:8.6px;color:#525252;transform:scaleX(0.9825);">Mar 1</span>
<span style="left:539.95px;top:561.00px;font-size:10.8px;color:#525252;transform:scaleX(1.0534);">There are an elevated number of risky reviews in this</span>
<span style="left:539.95px;top:573.00px;font-size:10.8px;color:#525252;transform:scaleX(1.0204);">category.</span>
<span style="left:854.67px;top:412.00px;font-size:15.0px;color:#fff;-webkit-text-stroke:0.55px #fff;transform:scaleX(1.1284);">Food Safety</span>
<span style="left:856.40px;top:446.00px;font-size:10.4px;color:#525252;transform:scaleX(1.0630);">Risky Reviews</span>
<span style="left:962.10px;top:446.00px;font-size:10.4px;color:#525252;transform:scaleX(1.0765);">Unresponded</span>
<span style="left:1076.50px;top:446.00px;font-size:10.4px;color:#525252;transform:scaleX(1.1200);">Locations</span>
<span style="left:962.30px;top:464.00px;font-size:17.6px;color:#4e4e50;font-weight:bold;transform:scaleX(0.9400);">0</span>
<span style="left:857.30px;top:541.00px;font-size:8.6px;color:#525252;transform:scaleX(0.9791);">Jan 1</span>
<span style="left:982.10px;top:541.00px;font-size:8.6px;color:#525252;transform:scaleX(0.9506);">Feb 1</span>
<span style="left:1113.00px;top:541.00px;font-size:8.6px;color:#525252;transform:scaleX(0.9825);">Mar 1</span>
<span style="left:856.10px;top:561.00px;font-size:10.8px;color:#525252;transform:scaleX(1.0754);">The number of risks in this category match the long</span>
<span style="left:856.10px;top:573.00px;font-size:10.8px;color:#525252;">term average.</span>
<span style="left:223.90px;top:624.00px;font-size:15.0px;color:#fff;-webkit-text-stroke:0.55px #fff;transform:scaleX(1.1381);">Customer Safety</span>
<span style="left:224.10px;top:658.00px;font-size:10.4px;color:#525252;transform:scaleX(1.0630);">Risky Reviews</span>
<span style="left:329.80px;top:658.00px;font-size:10.4px;color:#525252;transform:scaleX(1.0765);">Unresponded</span>
<span style="left:444.20px;top:658.00px;font-size:10.4px;color:#525252;transform:scaleX(1.1200);">Locations</span>
<span style="left:224.60px;top:674.00px;font-size:25px;color:#4e4e50;font-weight:bold;transform:scaleX(1.1615);">0</span>
<span style="left:330.00px;top:676.00px;font-size:17.6px;color:#4e4e50;font-weight:bold;transform:scaleX(0.9400);">0</span>
<span style="left:444.40px;top:676.00px;font-size:17.6px;color:#4e4e50;font-weight:bold;transform:scaleX(0.9400);">0</span>
<span style="left:225.00px;top:753.00px;font-size:8.6px;color:#525252;transform:scaleX(0.9791);">Jan 1</span>
<span style="left:349.80px;top:753.00px;font-size:8.6px;color:#525252;transform:scaleX(0.9506);">Feb 1</span>
<span style="left:480.70px;top:753.00px;font-size:8.6px;color:#525252;transform:scaleX(0.9825);">Mar 1</span>
<span style="left:223.80px;top:773.00px;font-size:10.8px;color:#525252;transform:scaleX(1.0634);">There are currently no reviews identified for this</span>
<span style="left:223.80px;top:785.00px;font-size:10.8px;color:#525252;transform:scaleX(1.0204);">category.</span>
<span style="left:539.32px;top:624.00px;font-size:15.0px;color:#fff;-webkit-text-stroke:0.55px #fff;transform:scaleX(1.1285);">Employee Safety</span>
<span style="left:540.25px;top:658.00px;font-size:10.4px;color:#525252;transform:scaleX(1.0630);">Risky Reviews</span>
<span style="left:645.95px;top:658.00px;font-size:10.4px;color:#525252;transform:scaleX(1.0765);">Unresponded</span>
<span style="left:760.35px;top:658.00px;font-size:10.4px;color:#525252;transform:scaleX(1.1200);">Locations</span>
<span style="left:540.25px;top:674.00px;font-size:25px;color:#0b2b5e;font-weight:bold;transform:scaleX(1.1357);">4</span>
<span style="left:646.15px;top:676.00px;font-size:17.6px;color:#4e4e50;font-weight:bold;transform:scaleX(0.9400);">0</span>
<span style="left:760.35px;top:676.00px;font-size:17.6px;color:#4e4e50;font-weight:bold;transform:scaleX(1.0500);">4</span>
<span style="left:541.15px;top:753.00px;font-size:8.6px;color:#525252;transform:scaleX(0.9791);">Jan 1</span>
<span style="left:665.95px;top:753.00px;font-size:8.6px;color:#525252;transform:scaleX(0.9506);">Feb 1</span>
<span style="left:796.85px;top:753.00px;font-size:8.6px;color:#525252;transform:scaleX(0.9825);">Mar 1</span>
<span style="left:539.95px;top:773.00px;font-size:10.8px;color:#525252;transform:scaleX(1.0754);">The number of risks in this category match the long</span>
<span style="left:539.95px;top:785.00px;font-size:10.8px;color:#525252;">term average.</span>
<span style="left:854.43px;top:624.00px;font-size:15.0px;color:#fff;-webkit-text-stroke:0.55px #fff;transform:scaleX(1.1683);">Unfair Business Practices</span>
<span style="left:856.40px;top:658.00px;font-size:10.4px;color:#525252;transform:scaleX(1.0630);">Risky Reviews</span>
<span style="left:962.10px;top:658.00px;font-size:10.4px;color:#525252;transform:scaleX(1.0765);">Unresponded</span>
<span style="left:1076.50px;top:658.00px;font-size:10.4px;color:#525252;transform:scaleX(1.1200);">Locations</span>
<span style="left:962.10px;top:676.00px;font-size:17.6px;color:#4e4e50;font-weight:bold;transform:scaleX(1.0700);">2</span>
<span style="left:857.30px;top:753.00px;font-size:8.6px;color:#525252;transform:scaleX(0.9791);">Jan 1</span>
<span style="left:982.10px;top:753.00px;font-size:8.6px;color:#525252;transform:scaleX(0.9506);">Feb 1</span>
<span style="left:1113.00px;top:753.00px;font-size:8.6px;color:#525252;transform:scaleX(0.9825);">Mar 1</span>
<span style="left:856.10px;top:773.00px;font-size:10.8px;color:#525252;transform:scaleX(1.0534);">There are an elevated number of risky reviews in this</span>
<span style="left:856.10px;top:785.00px;font-size:10.8px;color:#525252;transform:scaleX(1.0204);">category.</span>
<span style="left:223.60px;top:835.00px;font-size:15.4px;color:#0b2b5e;font-weight:bold;transform:scaleX(1.0322);">Top Risky Locations</span>
<span style="left:232.00px;top:870.00px;font-size:10.4px;color:#525252;font-weight:bold;transform:scaleX(1.0246);">Location</span>
<span style="left:429.90px;top:870.00px;font-size:10.4px;color:#525252;font-weight:bold;transform:scaleX(1.0190);">Risky Reviews</span>
<span style="left:589.00px;top:870.00px;font-size:10.4px;color:#525252;font-weight:bold;transform:scaleX(1.0402);">Unresponded</span>
<span style="left:753.10px;top:870.00px;font-size:10.4px;color:#525252;font-weight:bold;transform:scaleX(1.0200);">Risk Types</span>
<span style="left:922.30px;top:870.00px;font-size:10.4px;color:#525252;font-weight:bold;transform:scaleX(1.0629);">Trend</span>
<span style="left:232.00px;top:902.00px;font-size:10.4px;color:#525252;font-weight:bold;transform:scaleX(1.0245);">Starbucks</span>
<span style="left:232.00px;top:917.00px;font-size:10.6px;color:#525252;transform:scaleX(1.0828);">1313 Marco Dr.</span>
<span style="left:232.00px;top:930.00px;font-size:10.6px;color:#525252;transform:scaleX(1.0556);">Anaheim, CA 92802</span>
<span style="left:460.40px;top:917.00px;font-size:10.6px;color:#525252;transform:scaleX(0.9000);">6</span>
<span style="left:620.70px;top:917.00px;font-size:10.6px;color:#525252;transform:scaleX(0.9000);">2</span>
<span style="left:777.70px;top:917.00px;font-size:10.6px;color:#525252;transform:scaleX(0.9000);">3</span>
<span style="left:1171.60px;top:84.00px;font-size:13.6px;color:#0b2b5e;font-weight:bold;">Filters</span>
<span style="left:1171.20px;top:108.00px;font-size:10.6px;color:#525252;transform:scaleX(1.0525);">Global Filter</span>
<span style="left:1171.20px;top:162.00px;font-size:10.6px;color:#525252;transform:scaleX(1.0654);">Page Filters</span>
<span style="left:1179.50px;top:136.00px;font-size:11px;color:#525252;transform:scaleX(1.0497);">All (298)</span>
<span style="left:1179.50px;top:189.00px;font-size:11px;color:#525252;transform:scaleX(1.0136);">Providers</span>
<span style="left:1179.50px;top:224.00px;font-size:11px;color:#525252;transform:scaleX(1.0489);">Last 3 Months</span>
</div></div></body></html>
